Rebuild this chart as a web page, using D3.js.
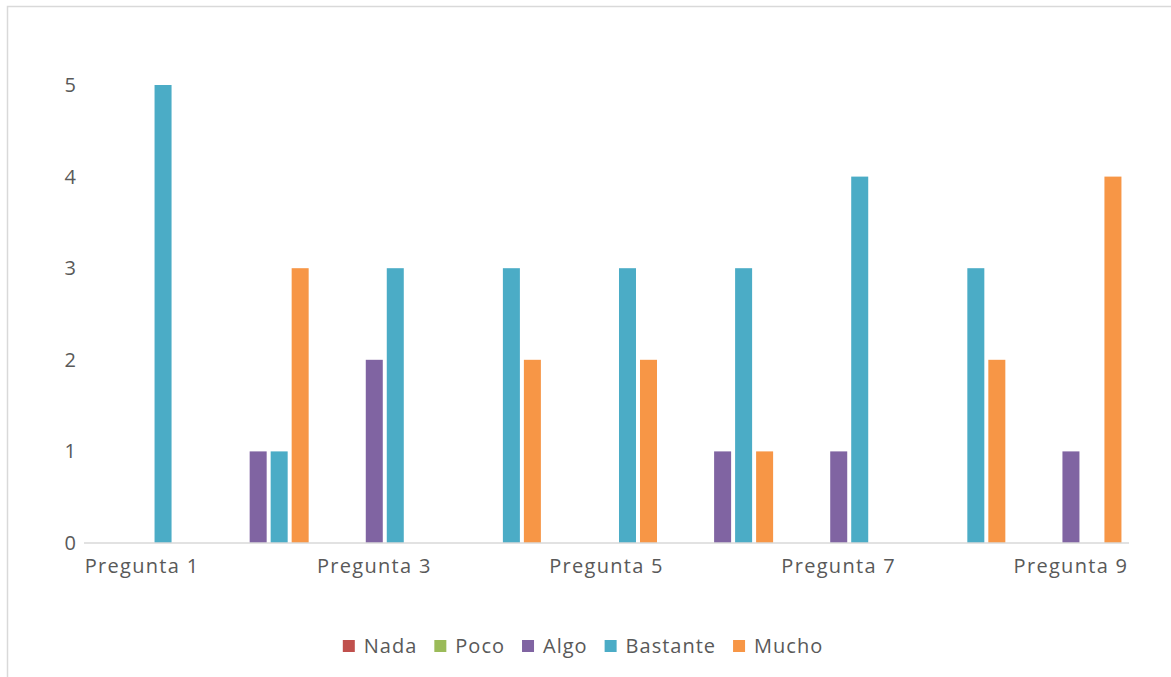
<!DOCTYPE html>
<html>
<head>
<meta charset="utf-8">
<script src="https://cdn.jsdelivr.net/npm/d3@7"></script>
<style>
  body { margin: 0; background: #fff; }
  text { font-family: "Open Sans", sans-serif; fill: #595959; }
</style>
</head>
<body>
<script>
//data
var categories = ["Pregunta 1", "Pregunta 2", "Pregunta 3", "Pregunta 4", "Pregunta 5",
                  "Pregunta 6", "Pregunta 7", "Pregunta 8", "Pregunta 9"];
var seriesNames = ["Nada", "Poco", "Algo", "Bastante", "Mucho"];
var nada     = [0, 0, 0, 0, 0, 0, 0, 0, 0];
var poco     = [0, 0, 0, 0, 0, 0, 0, 0, 0];
var algo     = [0, 1, 2, 0, 0, 1, 1, 0, 1];
var bastante = [5, 1, 3, 3, 3, 3, 4, 3, 0];
var mucho    = [0, 3, 0, 2, 2, 1, 0, 2, 4];
var yTicks = [0, 1, 2, 3, 4, 5];
var colors = ["#c0504d", "#9bbb59", "#8064a2", "#4bacc6", "#f79646"];

var seriesValues = [nada, poco, algo, bastante, mucho];

var w = 1171, h = 677;

var svg = d3.select("body").append("svg")
    .attr("width", w)
    .attr("height", h);

//chart frame
svg.append("rect")
    .attr("x", 7.5).attr("y", 6.5)
    .attr("width", w).attr("height", h)
    .style("fill", "#fff")
    .style("stroke", "#d9d9d9")
    .style("stroke-width", 1.5);

//scales
var x0 = d3.scaleBand()
    .domain(categories)
    .range([84, 1129]);

var x1 = d3.scaleBand()
    .domain(seriesNames)
    .range([0, x0.bandwidth()])
    .paddingInner(0.19)
    .paddingOuter(0.36);

var y = d3.scaleLinear()
    .domain([0, 5])
    .range([543, 85]);

//bars, one group per category
var groups = svg.selectAll(".cat")
    .data(categories)
    .enter()
    .append("g")
    .attr("class", "cat")
    .attr("transform", function(d){ return "translate(" + x0(d) + ",0)"; });

groups.selectAll("rect")
    .data(function(d, i){
        return seriesNames.map(function(s, j){
            return {series: s, value: seriesValues[j][i], color: colors[j]};
        });
    })
    .enter()
    .append("rect")
    .attr("x", function(d){ return x1(d.series); })
    .attr("y", function(d){ return y(d.value); })
    .attr("width", x1.bandwidth())
    .attr("height", function(d){ return y(0) - y(d.value); })
    .style("fill", function(d){ return d.color; });

//x axis line
svg.append("line")
    .attr("x1", x0.range()[0]).attr("x2", x0.range()[1])
    .attr("y1", y(0)).attr("y2", y(0))
    .style("stroke", "#d9d9d9")
    .style("stroke-width", 1.5);

//y tick labels
svg.selectAll(".ytick")
    .data(yTicks)
    .enter()
    .append("text")
    .attr("class", "ytick")
    .attr("x", 76)
    .attr("y", function(d){ return y(d) + 7; })
    .attr("text-anchor", "end")
    .style("font-size", "20px")
    .text(function(d){ return d; });

//x labels, only every second category fits
svg.selectAll(".xlab")
    .data(categories.filter(function(d, i){ return i % 2 === 0; }))
    .enter()
    .append("text")
    .attr("class", "xlab")
    .attr("x", function(d){ return x0(d) + x0.bandwidth() / 2; })
    .attr("y", 573)
    .attr("text-anchor", "middle")
    .style("font-size", "20px")
    .style("letter-spacing", "1.3px")
    .text(function(d){ return d; });

//legend
var legend = svg.append("g").attr("class", "legend");
var lx = 0;
seriesNames.forEach(function(s, i){
    var item = legend.append("g").attr("transform", "translate(" + lx + ",0)");
    item.append("rect")
        .attr("x", 0).attr("y", 640)
        .attr("width", 12).attr("height", 12)
        .style("fill", colors[i]);
    var t = item.append("text")
        .attr("x", 21).attr("y", 653)
        .style("font-size", "20px")
        .style("letter-spacing", "1px")
        .text(s);
    lx += 21 + t.node().getComputedTextLength() + 17;
});
var legendWidth = lx - 17;
legend.attr("transform", "translate(" + (583 - legendWidth / 2) + ",0)");
</script>
</body>
</html>
